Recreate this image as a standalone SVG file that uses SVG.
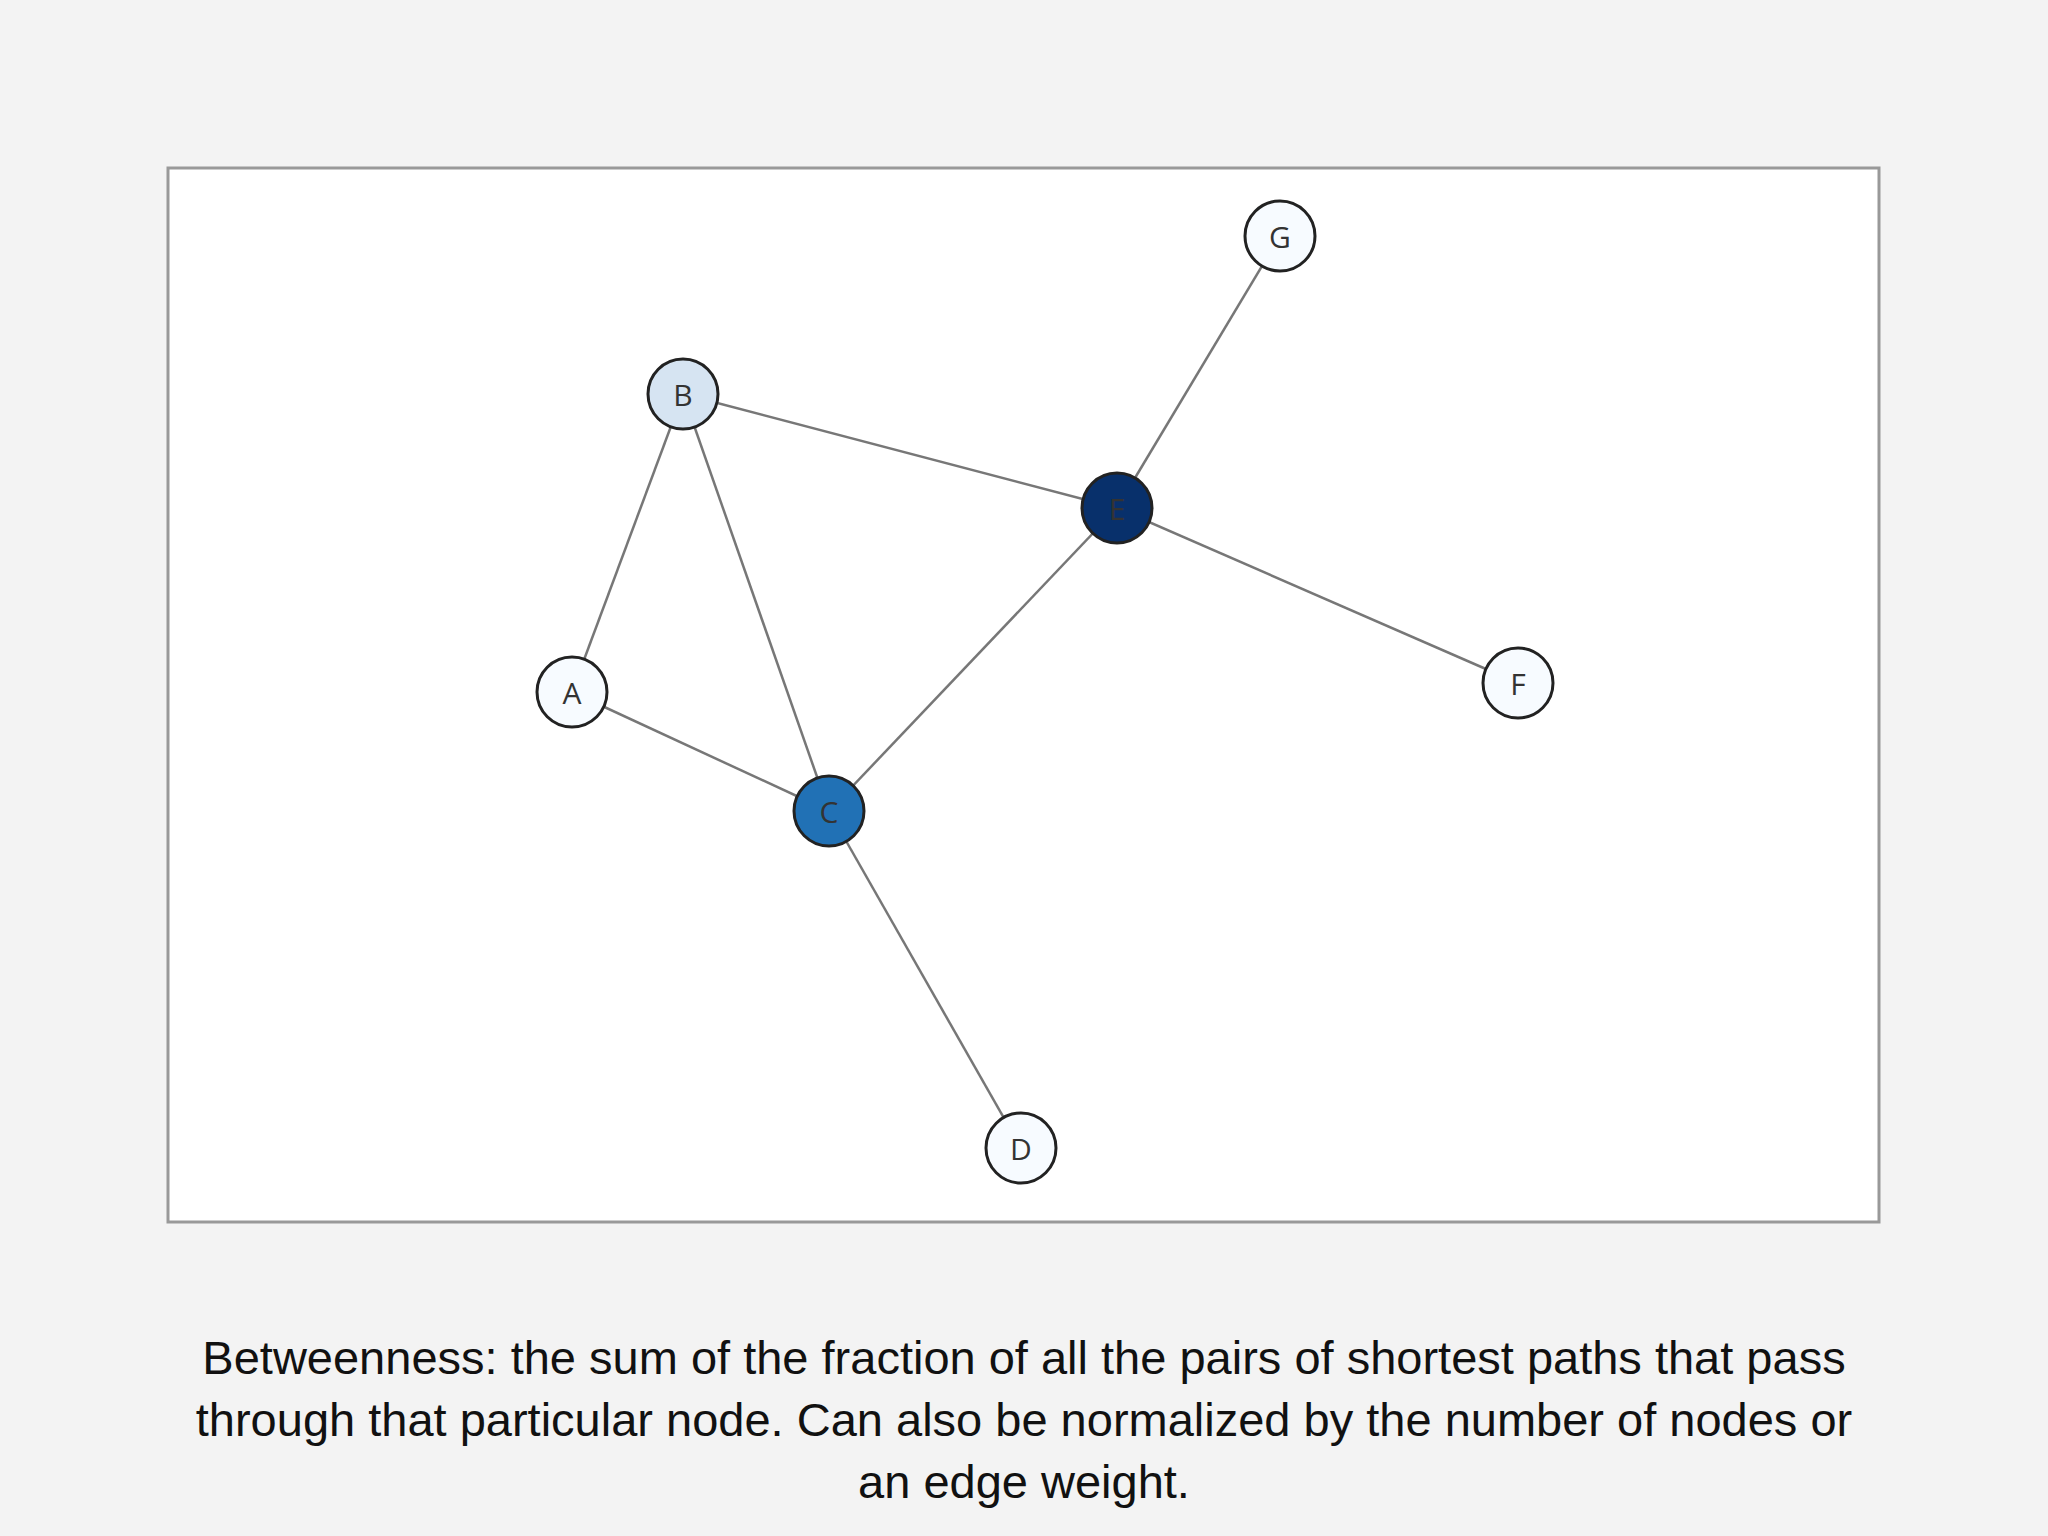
<svg xmlns="http://www.w3.org/2000/svg" width="2048" height="1536" viewBox="0 0 2048 1536">
<style>
.n{stroke:#222;stroke-width:3}
.l{font-family:"Open Sans","DejaVu Sans",sans-serif;font-size:30px;fill:#333;text-anchor:middle;dominant-baseline:central}
.e{stroke:#777;stroke-width:2.5}
.c{font-family:"Liberation Sans",Arial,sans-serif;font-size:47px;fill:#111;text-anchor:middle}
</style>
<rect width="2048" height="1536" fill="#f3f3f3"/>
<rect x="168" y="168" width="1711" height="1054" fill="#fff" stroke="#999" stroke-width="3"/>
<g id="edges">
<line class="e" x1="683" y1="394" x2="1117" y2="508"/>
<line class="e" x1="683" y1="394" x2="572" y2="692"/>
<line class="e" x1="683" y1="394" x2="829" y2="811"/>
<line class="e" x1="1280" y1="236" x2="1117" y2="508"/>
<line class="e" x1="1117" y1="508" x2="1518" y2="683"/>
<line class="e" x1="1117" y1="508" x2="829" y2="811"/>
<line class="e" x1="572" y1="692" x2="829" y2="811"/>
<line class="e" x1="829" y1="811" x2="1021" y2="1148"/>
</g>
<g id="G"><circle class="n" cx="1280" cy="236" r="35" fill="#f7fbff"/><text class="l" x="1280" y="236">G</text></g>
<g id="B"><circle class="n" cx="683" cy="394" r="35" fill="#d6e4f2"/><text class="l" x="683" y="394">B</text></g>
<g id="E"><circle class="n" cx="1117" cy="508" r="35" fill="#08306b"/><text class="l" x="1117" y="508">E</text></g>
<g id="A"><circle class="n" cx="572" cy="692" r="35" fill="#f7fbff"/><text class="l" x="572" y="692">A</text></g>
<g id="F"><circle class="n" cx="1518" cy="683" r="35" fill="#f7fbff"/><text class="l" x="1518" y="683">F</text></g>
<g id="C"><circle class="n" cx="829" cy="811" r="35" fill="#2171b5"/><text class="l" x="829" y="811">C</text></g>
<g id="D"><circle class="n" cx="1021" cy="1148" r="35" fill="#f7fbff"/><text class="l" x="1021" y="1148">D</text></g>
<text class="c" x="1024" y="1374">Betweenness: the sum of the fraction of all the pairs of shortest paths that pass</text>
<text class="c" x="1024" y="1436">through that particular node. Can also be normalized by the number of nodes or</text>
<text class="c" x="1024" y="1498">an edge weight.</text>
</svg>
